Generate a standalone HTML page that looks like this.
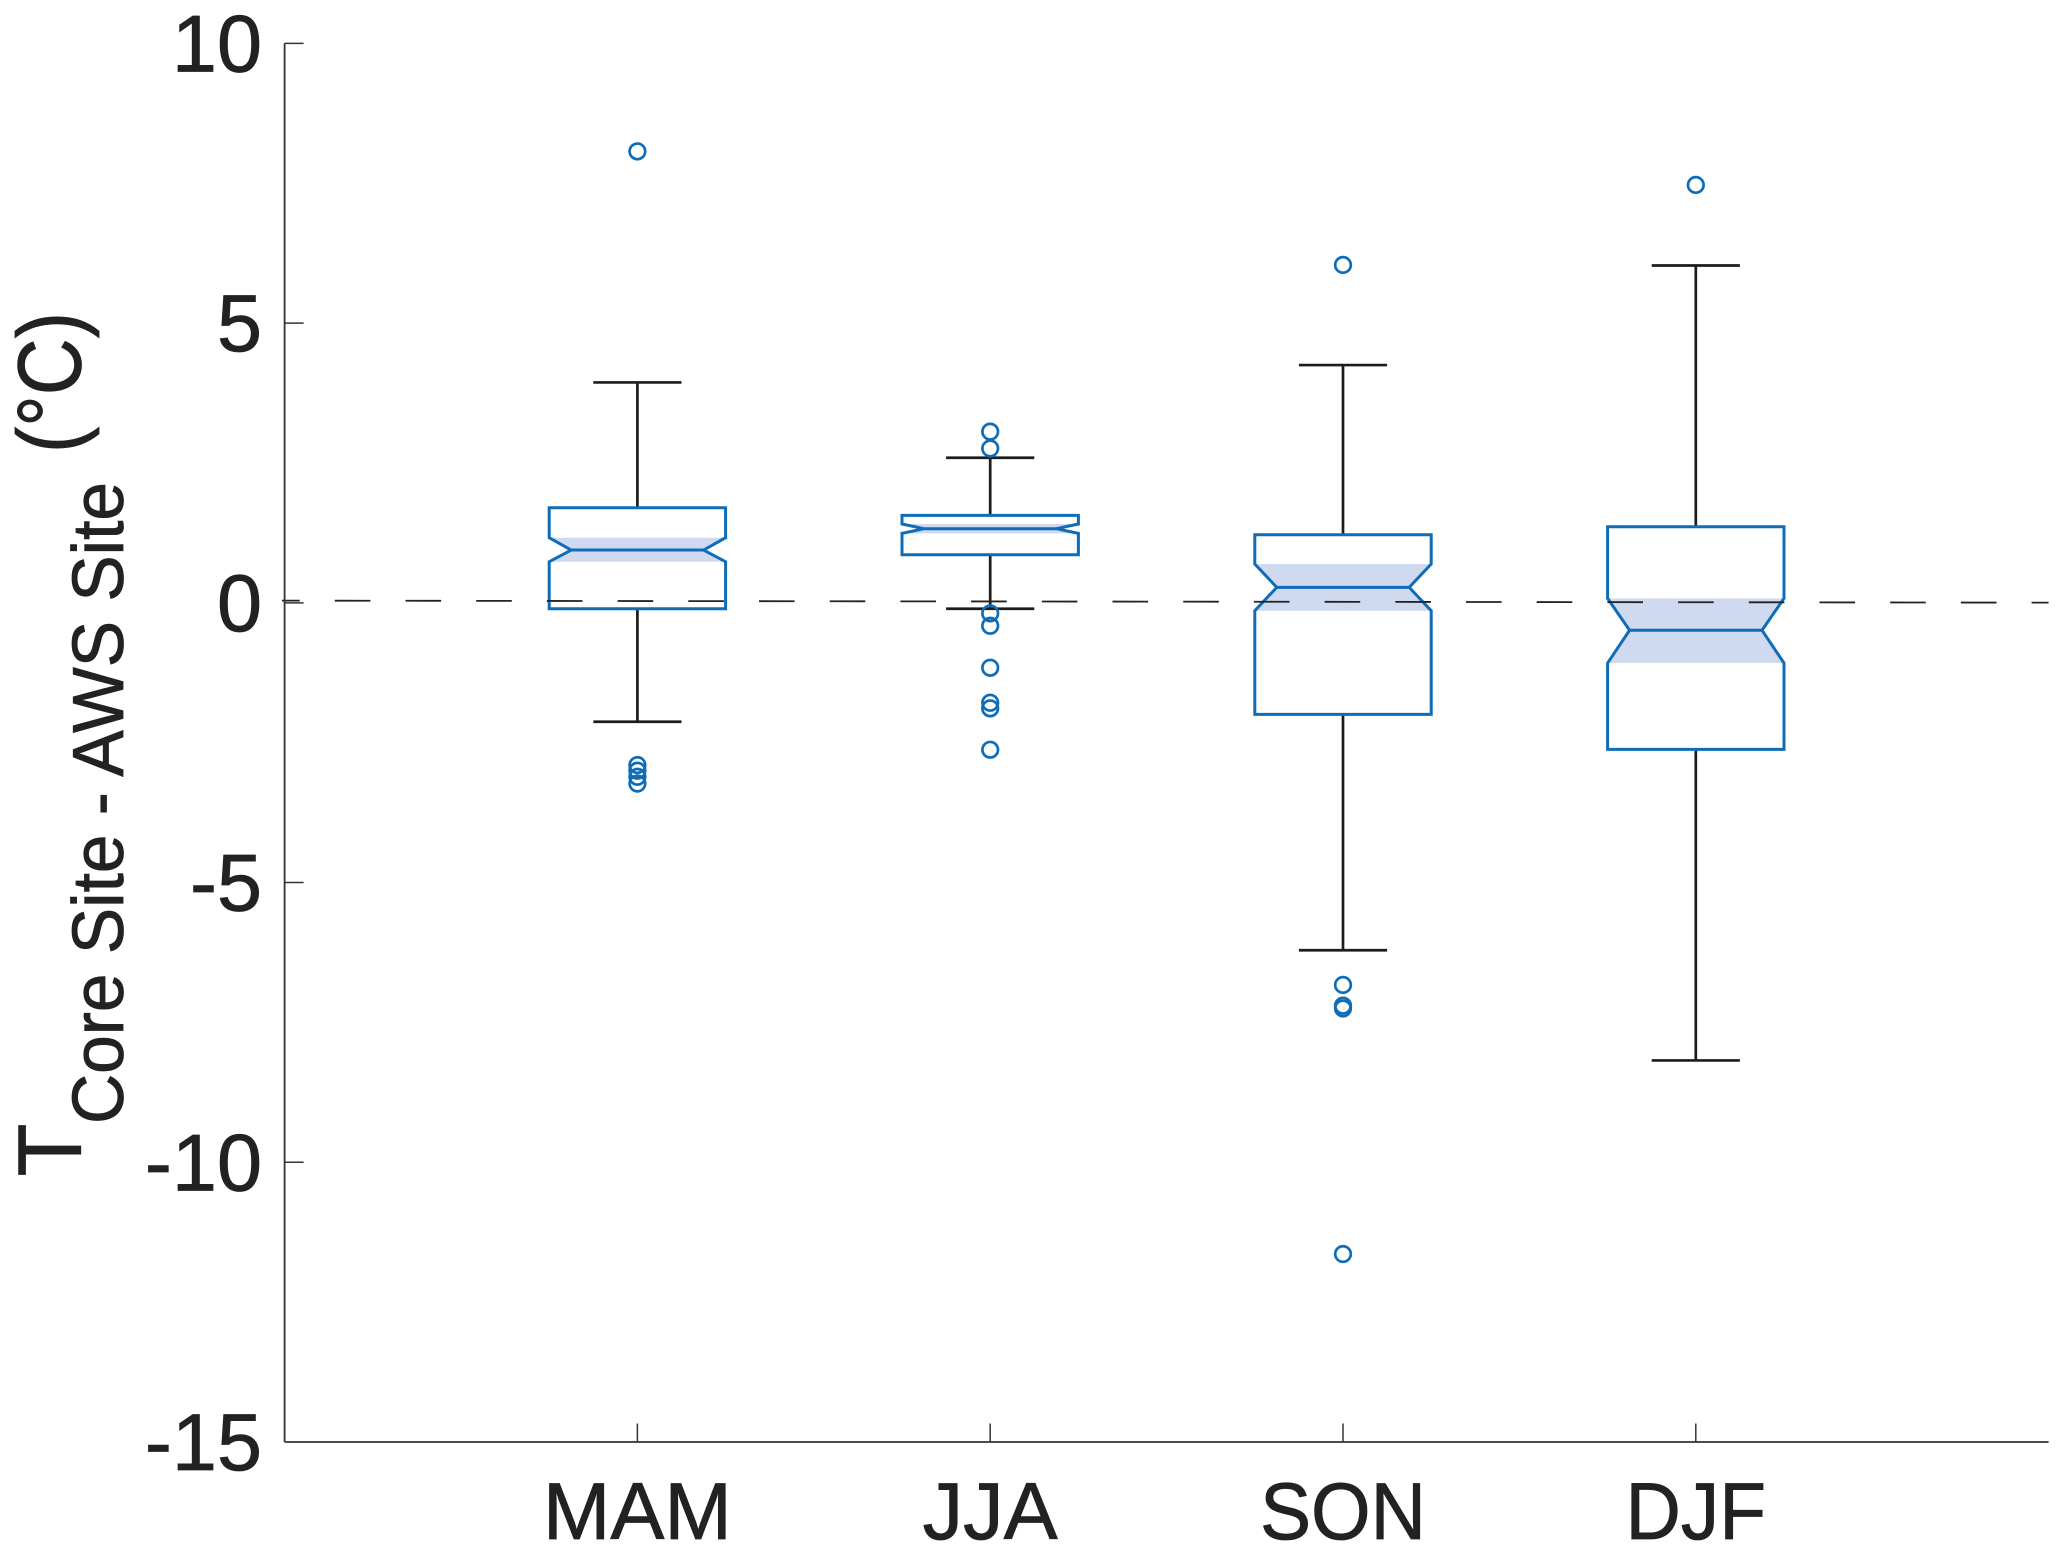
<!DOCTYPE html>
<html lang="en">
<head>
<meta charset="utf-8">
<title>Core Site minus AWS Site temperature by season</title>
<style>
html,body{margin:0;padding:0;background:#fff;}
svg{display:block;font-family:"Liberation Sans",Arial,sans-serif;}
</style>
</head>
<body>
<svg id="chart" width="2067" height="1559" viewBox="0 0 2067 1559" xmlns="http://www.w3.org/2000/svg">
  <rect x="0" y="0" width="2067" height="1559" fill="#fff"/>
  <g id="marks"></g>
  <g id="axes"></g>
  <g fill="#222" stroke="#222" stroke-width="0.8">
    <text transform="translate(80.5,1176.5) rotate(-90)" font-size="90" textLength="53" lengthAdjust="spacingAndGlyphs">T</text>
    <text transform="translate(123,1124) rotate(-90)" font-size="72" textLength="642" lengthAdjust="spacingAndGlyphs">Core Site - AWS Site</text>
    <text transform="translate(80.5,453) rotate(-90)" font-size="90" textLength="141" lengthAdjust="spacingAndGlyphs">(°C)</text>
  </g>
</svg>
<script>
const categories = ['MAM', 'JJA', 'SON', 'DJF'];
const positions = [1, 2, 3, 4];
const q1 = [-0.105, 0.86, -1.993, -2.62];
const q3 = [1.70, 1.564, 1.217, 1.36];
const medians = [0.944, 1.325, 0.277, -0.49];
const notchLow = [0.735, 1.242, -0.141, -1.076];
const notchHigh = [1.164, 1.409, 0.694, 0.08];
const whiskerLow = [-2.125, -0.105, -6.21, -8.18];
const whiskerHigh = [3.94, 2.594, 4.25, 6.03];
const outliersMAM = [8.07, -2.90, -3.00, -3.11, -3.23];
const outliersJJA = [3.06, 2.76, -0.188, -0.41, -1.16, -1.786, -1.886, -2.626];
const outliersSON = [6.04, -6.83, -7.20, -7.25, -11.64];
const outliersDJF = [7.47];
const outliers = [outliersMAM, outliersJJA, outliersSON, outliersDJF];
const yTicks = [10, 5, 0, -5, -10, -15];
const yTickLabels = ['10', '5', '0', '-5', '-10', '-15'];
const referenceLevel = 0;
const xDomain = [0, 5];
const yDomain = [-15, 10];

const plotLeft = 284.6, plotRight = 2048.6, plotTop = 43.4, plotBottom = 1442;
const BLUE = '#0f6db8', DARK = '#1c1c1c', SHADE = '#cfd9f0', AXIS = '#333';
const boxHalf = 0.25, notchInset = 0.0623, capHalf = 0.125;

function xScale(v) { return plotLeft + (v - xDomain[0]) / (xDomain[1] - xDomain[0]) * (plotRight - plotLeft); }
function yScale(v) { return plotBottom - (v - yDomain[0]) / (yDomain[1] - yDomain[0]) * (plotBottom - plotTop); }

const NS = 'http://www.w3.org/2000/svg';
const marks = document.getElementById('marks');
const axes = document.getElementById('axes');

function make(parent, tag, props) {
  const el = document.createElementNS(NS, tag);
  for (const k in props) el.setAttribute(k, props[k]);
  parent.appendChild(el);
  return el;
}

categories.forEach(function (cat, i) {
  const key = cat.toLowerCase();
  const c = positions[i];
  const g = make(marks, 'g', {});
  
  

  const xl = xScale(c - boxHalf), xr = xScale(c + boxHalf);
  const xil = xScale(c - boxHalf + notchInset), xir = xScale(c + boxHalf - notchInset);
  const cx = xScale(c);

  const shade = make(g, 'polygon', {
    points: [[xl, yScale(notchHigh[i])], [xr, yScale(notchHigh[i])], [xir, yScale(medians[i])], [xr, yScale(notchLow[i])], [xl, yScale(notchLow[i])], [xil, yScale(medians[i])]].map(function (p) { return p.join(','); }).join(' '),
    fill: SHADE, stroke: 'none'
  });
  
  

  const upper = make(g, 'line', { x1: cx, y1: yScale(q3[i]), x2: cx, y2: yScale(whiskerHigh[i]), stroke: DARK, 'stroke-width': 2.7 });
  
  

  const lower = make(g, 'line', { x1: cx, y1: yScale(q1[i]), x2: cx, y2: yScale(whiskerLow[i]), stroke: DARK, 'stroke-width': 2.7 });
  
  

  const capU = make(g, 'line', { x1: xScale(c - capHalf), y1: yScale(whiskerHigh[i]), x2: xScale(c + capHalf), y2: yScale(whiskerHigh[i]), stroke: DARK, 'stroke-width': 2.7 });
  
  

  const capL = make(g, 'line', { x1: xScale(c - capHalf), y1: yScale(whiskerLow[i]), x2: xScale(c + capHalf), y2: yScale(whiskerLow[i]), stroke: DARK, 'stroke-width': 2.7 });
  
  

  const outline = make(g, 'polygon', {
    points: [[xl, yScale(q3[i])], [xr, yScale(q3[i])], [xr, yScale(notchHigh[i])], [xir, yScale(medians[i])], [xr, yScale(notchLow[i])], [xr, yScale(q1[i])], [xl, yScale(q1[i])], [xl, yScale(notchLow[i])], [xil, yScale(medians[i])], [xl, yScale(notchHigh[i])]].map(function (p) { return p.join(','); }).join(' '),
    fill: 'none', stroke: BLUE, 'stroke-width': 3
  });
  
  

  const med = make(g, 'line', { x1: xil, y1: yScale(medians[i]), x2: xir, y2: yScale(medians[i]), stroke: BLUE, 'stroke-width': 3 });
  
  

  outliers[i].forEach(function (v, j) {
    const o = make(g, 'circle', { cx: cx, cy: yScale(v), r: 7.8, fill: 'none', stroke: BLUE, 'stroke-width': 2.7 });
    
    
  });

  const tick = make(axes, 'line', { x1: cx, y1: plotBottom, x2: cx, y2: plotBottom - 18.5, stroke: AXIS, 'stroke-width': 1.5 });
  
  

  const label = make(axes, 'text', { x: cx, y: 1539, 'text-anchor': 'middle', 'font-size': 81, fill: '#222', stroke: '#222', 'stroke-width': 0.8 });
  label.textContent = cat;
  
  
  if (cat === 'SON' || cat === 'DJF') {
    label.setAttribute('textLength', (label.getComputedTextLength() * 0.946).toFixed(1));
    label.setAttribute('lengthAdjust', 'spacingAndGlyphs');
  }
});

// dashed reference line sits above the notch shading
const refY = yScale(referenceLevel);
const refLine = make(marks, 'line', { x1: 282, y1: refY - 2.2, x2: plotRight, y2: refY - 0.2, stroke: '#222', 'stroke-width': 1.8, 'stroke-dasharray': '35.6 35.1', 'stroke-dashoffset': 17.9 });



yTicks.forEach(function (v, i) {
  const y = yScale(v);
  if (i < yTicks.length - 1) {
    const tick = make(axes, 'line', { x1: plotLeft, y1: y, x2: plotLeft + 19, y2: y, stroke: AXIS, 'stroke-width': 1.5 });
    
    
  }
  const label = make(axes, 'text', { x: 262, y: y + 28, 'text-anchor': 'end', 'font-size': 81, fill: '#222', stroke: '#222', 'stroke-width': 0.8 });
  label.textContent = yTickLabels[i];
  
  
});

const yAxis = make(axes, 'line', { x1: plotLeft, y1: plotTop, x2: plotLeft, y2: plotBottom, stroke: AXIS, 'stroke-width': 1.8 });



const xAxis = make(axes, 'line', { x1: plotLeft, y1: plotBottom, x2: plotRight, y2: plotBottom, stroke: AXIS, 'stroke-width': 1.8 });


</script>
</body>
</html>
